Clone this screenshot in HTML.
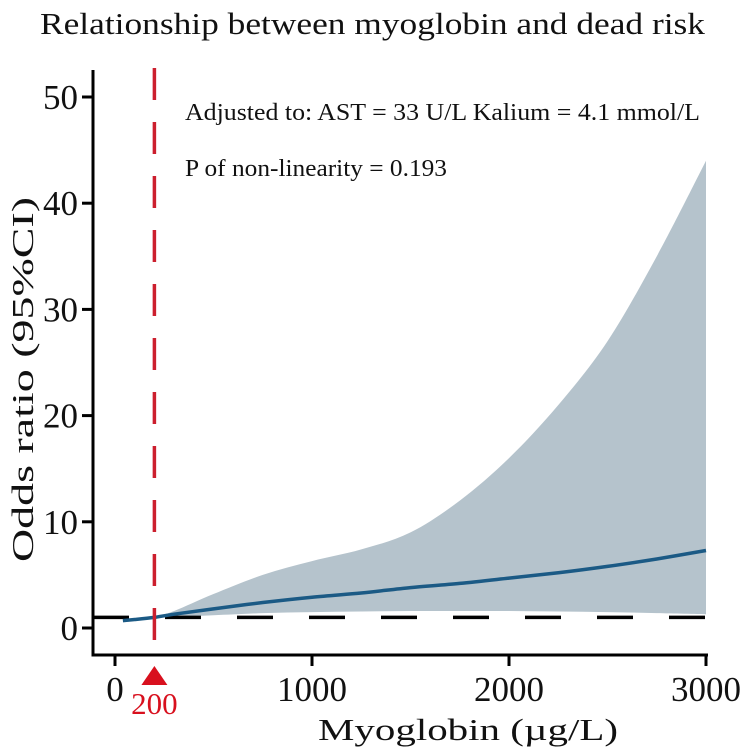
<!DOCTYPE html>
<html><head><meta charset="utf-8"><style>
body{margin:0;background:#fff}
svg text{font-family:"Liberation Serif",serif;fill:#111}
</style></head><body>
<svg width="744" height="750" xmlns="http://www.w3.org/2000/svg">
<g id="plot"></g>
</svg>
<script>
const xs=[40,100,200,300,500,750,1000,1250,1500,1750,2000,2250,2500,2750,3000];
const orVals=[0.7,0.8,1.0,1.3,1.8,2.4,2.9,3.3,3.8,4.2,4.7,5.2,5.8,6.5,7.3];
const upperVals=[0.75,0.85,1.05,1.6,3.2,5.0,6.3,7.4,9.0,12.0,16.0,21.0,27.0,35.0,44];
const lowerVals=[0.65,0.78,0.98,1.05,1.2,1.4,1.5,1.55,1.6,1.6,1.6,1.55,1.5,1.4,1.3];
const xTicks=[0,1000,2000,3000];
const yTicks=[0,10,20,30,40,50];
const cutoff=200;
const refOR=1;
const NS="http://www.w3.org/2000/svg";
const X=v=>115+v*0.197, Y=v=>628-v*10.62;
const g=document.getElementById('plot');
function mk(t,a,txt){const e=document.createElementNS(NS,t);for(const k in a)e.setAttribute(k,a[k]);if(txt!=null)e.textContent=txt;g.appendChild(e);return e;}
function spline(px,py,start){let d=start?'M':'L';d+=px[0].toFixed(1)+','+py[0].toFixed(1);
 for(let i=0;i<px.length-1;i++){const i0=Math.max(i-1,0),i3=Math.min(i+2,px.length-1);
  const c1x=px[i]+(px[i+1]-px[i0])/6,c1y=py[i]+(py[i+1]-py[i0])/6;
  const c2x=px[i+1]-(px[i3]-px[i])/6,c2y=py[i+1]-(py[i3]-py[i])/6;
  d+=`C${c1x.toFixed(1)},${c1y.toFixed(1)} ${c2x.toFixed(1)},${c2y.toFixed(1)} ${px[i+1].toFixed(1)},${py[i+1].toFixed(1)}`;}
 return d;}
const rx=xs.slice().reverse();
let bd=spline(xs.map(X),upperVals.map(Y),true)+spline(rx.map(X),lowerVals.slice().reverse().map(Y),false)+'Z';
let band=mk('path',{d:bd,fill:'#b5c3cc'});


let ref=mk('line',{x1:93,x2:X(3000),y1:Y(refOR),y2:Y(refOR),stroke:'#000','stroke-width':3.5,'stroke-dasharray':'36,36'});


let ln=mk('path',{d:spline(xs.map(X),orVals.map(Y),true),fill:'none',stroke:'#1b5a85','stroke-width':3.5});


let cut=mk('line',{x1:X(cutoff),x2:X(cutoff),y1:68,y2:655,stroke:'#cc1f2e','stroke-width':3.5,'stroke-dasharray':'32,22'});


let ax=mk('path',{d:'M93,70V655H708',fill:'none',stroke:'#000','stroke-width':3});


yTicks.forEach(v=>{
 mk('line',{x1:82,x2:93,y1:Y(v),y2:Y(v),stroke:'#000','stroke-width':3});
 let t=mk('text',{x:78,y:Y(v)+12,'text-anchor':'end','font-size':35},v);
 
 
});
xTicks.forEach(v=>{
 mk('line',{x1:X(v),x2:X(v),y1:655,y2:666,stroke:'#000','stroke-width':3});
 let t=mk('text',{x:X(v),y:701,'text-anchor':'middle','font-size':35},v);
 
 
});
let tri=mk('polygon',{points:`${X(cutoff)-13},685 ${X(cutoff)+13},685 ${X(cutoff)},666`,fill:'#d8101e'});


let ct=mk('text',{x:X(cutoff),y:714,'text-anchor':'middle','font-size':31,style:'fill:#d8101e'},cutoff);


</script>
<script>
const s=document.querySelector('svg');
function tx(a,txt,name){const e=document.createElementNS("http://www.w3.org/2000/svg",'text');for(const k in a)e.setAttribute(k,a[k]);e.textContent=txt;


s.appendChild(e);}
tx({x:40,y:34,'font-size':31,textLength:665,lengthAdjust:'spacingAndGlyphs'},'Relationship between myoglobin and dead risk','chart-title');
tx({x:185,y:120,'font-size':24,textLength:515,lengthAdjust:'spacingAndGlyphs'},'Adjusted to: AST = 33 U/L Kalium = 4.1 mmol/L','adjusted-note');
tx({x:185,y:176,'font-size':24,textLength:262,lengthAdjust:'spacingAndGlyphs'},'P of non-linearity = 0.193','p-value-note');
tx({x:318,y:740,'font-size':31,textLength:300,lengthAdjust:'spacingAndGlyphs'},'Myoglobin (µg/L)','x-axis-title');
tx({x:0,y:0,'font-size':31,textLength:365,lengthAdjust:'spacingAndGlyphs',transform:'translate(33 562) rotate(-90)'},'Odds ratio (95%CI)','y-axis-title');
</script>
</body></html>
